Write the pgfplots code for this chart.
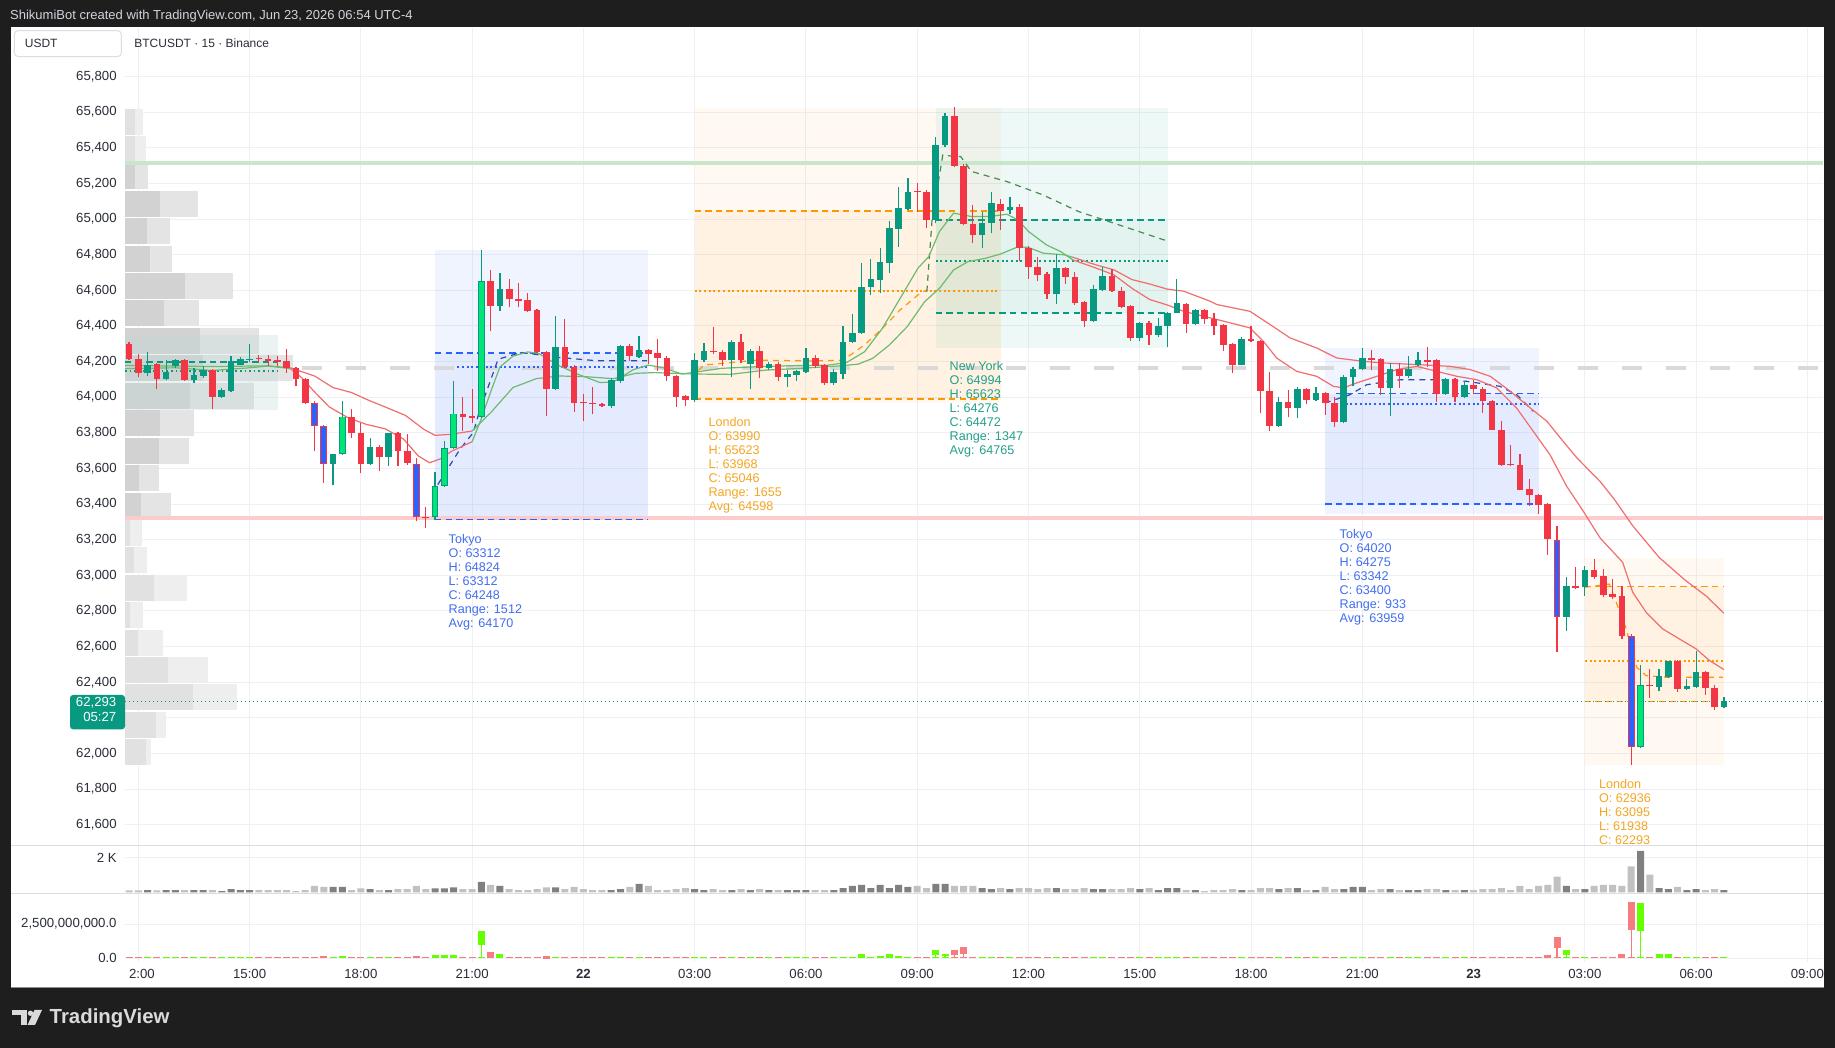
\documentclass[border=0pt]{standalone}
\usepackage{pgfplots}
\pgfplotsset{compat=1.18}
\usepackage{pgfplotstable}
\usepackage{fontspec}
\setmainfont{Liberation Sans}

\definecolor{bgdark}{HTML}{1E1E1E}
\definecolor{gridc}{HTML}{EEF0F4}
\definecolor{labc}{HTML}{2A2E39}
\definecolor{cred}{HTML}{F23645}
\definecolor{cteal}{HTML}{089981}
\definecolor{cblue}{HTML}{2962FF}
\definecolor{cbright}{HTML}{00E676}
\definecolor{volD}{HTML}{808080}
\definecolor{volL}{HTML}{C1C1C1}
\definecolor{dred}{HTML}{F77C80}
\definecolor{dgreen}{HTML}{66FF00}
\definecolor{tokyoc}{HTML}{2962FF}
\definecolor{tokyot}{HTML}{426EF0}
\definecolor{londc}{HTML}{FF9800}
\definecolor{londt}{HTML}{F5A623}
\definecolor{nyc}{HTML}{089981}
\definecolor{nyt}{HTML}{22A08A}
\definecolor{mag}{HTML}{6DBB6F}
\definecolor{mar}{HTML}{F26D6D}
\definecolor{bandg}{HTML}{C8E6C9}
\definecolor{bandr}{HTML}{FCCBCD}
\definecolor{grayd}{HTML}{D9D9D9}
\definecolor{navy}{HTML}{2C4AA8}
\definecolor{nyd}{HTML}{468C50}
\definecolor{profDa}{HTML}{D2D2D2}
\definecolor{profDb}{HTML}{E4E4E4}
\definecolor{profLa}{HTML}{E1E1E1}
\definecolor{profLb}{HTML}{EEEEEE}
\definecolor{topc}{HTML}{D1D4DC}
\definecolor{sepc}{HTML}{DADDE3}
\definecolor{logoc}{HTML}{DADADA}
\definecolor{sessov}{HTML}{BFDAD6}

% t o h l c cat v   (cat: 0 up, 1 down, 2 blue, 3 bright green)
\pgfplotstableread{
t o h l c cat v
-12.25 64297 64312 64210 64217 1 120
-12.00 64217 64243 64116 64138 1 120
-11.75 64138 64251 64119 64183 0 140
-11.50 64187 64194 64044 64104 1 120
-11.25 64101 64206 64095 64140 0 140
-11.00 64176 64217 64166 64206 0 140
-10.75 64206 64213 64093 64097 1 140
-10.50 64095 64166 64082 64125 0 140
-10.25 64119 64176 64110 64153 0 140
-10.00 64153 64160 63936 64001 1 140
-9.75 64001 64054 63995 64039 0 80
-9.50 64035 64232 64030 64204 0 200
-9.25 64183 64225 64178 64213 0 140
-9.00 64209 64297 64195 64217 0 140
-8.75 64219 64235 64198 64213 1 140
-8.50 64217 64236 64176 64202 1 140
-8.25 64206 64230 64176 64198 1 140
-8.00 64202 64269 64138 64161 1 140
-7.75 64161 64170 64063 64104 1 80
-7.50 64104 64110 63960 63966 1 140
-7.25 63969 63979 63697 63838 2 380
-7.00 63838 63845 63519 63626 2 320
-6.75 63626 63640 63506 63683 0 320
-6.50 63683 63979 63675 63891 3 320
-6.25 63891 63932 63771 63801 1 140
-6.00 63801 63857 63572 63626 1 240
-5.75 63626 63773 63620 63722 0 200
-5.50 63722 63730 63585 63664 1 140
-5.25 63664 63800 63613 63797 0 140
-5.00 63797 63805 63613 63697 1 200
-4.75 63699 63791 63620 63630 1 200
-4.50 63626 63656 63304 63326 2 380
-4.25 63330 63382 63266 63320 1 200
-4.00 63326 63581 63312 63501 3 240
-3.75 63501 63754 63495 63716 3 240
-3.50 63716 64089 63710 63908 3 300
-3.25 63908 64001 63810 63891 1 200
-3.00 63893 64048 63857 63885 1 200
-2.75 63891 64824 63885 64650 3 620
-2.50 64650 64714 64372 64513 1 440
-2.25 64513 64697 64485 64607 0 380
-2.00 64607 64663 64504 64549 1 200
-1.75 64551 64641 64504 64541 1 140
-1.50 64545 64584 64480 64485 1 140
-1.25 64489 64495 64250 64254 1 200
-1.00 64254 64260 63894 64048 1 300
-0.75 64048 64457 64040 64281 0 300
-0.50 64281 64438 64165 64170 1 200
-0.25 64170 64178 63917 63969 1 320
0.00 63971 64016 63866 63966 1 200
0.25 63966 64057 63904 63961 1 140
0.50 63961 63970 63945 63951 1 140
0.75 63951 64110 63940 64095 0 140
1.00 64091 64292 64080 64288 0 200
1.25 64288 64297 64204 64232 1 320
1.50 64228 64344 64220 64264 0 500
1.75 64264 64270 64187 64245 1 380
2.00 64247 64326 64148 64221 1 140
2.25 64221 64230 64091 64119 1 140
2.50 64121 64126 63947 64001 1 200
2.75 64007 64012 63950 63984 1 260
3.00 63984 64247 63975 64207 0 200
3.25 64208 64302 64200 64261 0 140
3.50 64261 64396 64240 64252 1 200
3.75 64255 64262 64175 64208 1 140
4.00 64208 64320 64113 64312 0 140
4.25 64312 64353 64190 64208 1 200
4.50 64184 64270 64046 64261 0 140
4.75 64261 64285 64106 64162 1 200
5.00 64162 64200 64155 64184 0 140
5.25 64184 64200 64093 64113 1 140
5.50 64113 64150 64059 64130 0 140
5.75 64124 64155 64093 64147 0 140
6.00 64143 64274 64135 64218 0 140
6.25 64218 64237 64165 64175 1 140
6.50 64179 64185 64068 64077 1 140
6.75 64077 64156 64070 64139 0 140
7.00 64130 64401 64100 64312 0 260
7.25 64312 64465 64305 64362 0 380
7.50 64360 64752 64355 64621 0 440
7.75 64621 64774 64572 64662 0 260
8.00 64658 64836 64585 64757 0 440
8.25 64752 64991 64698 64948 0 260
8.50 64944 65179 64843 65061 0 440
8.75 65057 65229 65050 65154 0 320
9.00 65154 65201 65042 65149 1 380
9.25 65149 65164 64948 64995 1 260
9.50 64995 65458 64976 65413 0 500
9.75 65413 65594 65405 65581 0 500
10.00 65581 65626 65290 65300 1 380
10.25 65300 65310 64965 64973 1 380
10.50 64973 65076 64864 64911 1 380
10.75 64911 65042 64840 64980 0 260
11.00 64980 65149 64920 65089 0 200
11.25 65085 65111 64939 65046 1 260
11.50 65048 65126 65028 65066 0 200
11.75 65066 65085 64765 64840 1 260
12.00 64840 64848 64664 64729 1 260
12.25 64733 64789 64650 64686 1 200
12.50 64692 64700 64551 64579 1 260
12.75 64579 64804 64523 64724 0 260
13.00 64724 64730 64635 64673 1 200
13.25 64677 64700 64520 64527 1 200
13.50 64533 64540 64392 64428 1 260
13.75 64428 64630 64420 64606 0 200
14.00 64604 64733 64595 64681 0 200
14.25 64681 64720 64590 64598 1 200
14.50 64598 64620 64498 64508 1 200
14.75 64514 64520 64315 64334 1 260
15.00 64334 64420 64315 64418 0 200
15.25 64418 64425 64293 64349 1 260
15.50 64349 64442 64340 64401 0 140
15.75 64401 64480 64283 64475 0 260
16.00 64475 64664 64470 64527 0 260
16.25 64523 64530 64361 64411 1 140
16.50 64411 64495 64405 64490 0 140
16.75 64490 64495 64410 64436 1 80
17.00 64440 64475 64351 64402 1 140
17.25 64404 64410 64258 64295 1 140
17.50 64299 64305 64136 64183 1 200
17.75 64183 64335 64178 64329 0 140
18.00 64329 64398 64308 64314 1 140
18.25 64314 64320 63911 64033 1 260
18.50 64033 64142 63812 63840 1 260
18.75 63840 64001 63835 63973 0 200
19.00 63973 64039 63887 63939 1 260
19.25 63939 64057 63883 64046 0 260
19.50 64046 64052 63963 63986 1 140
19.75 63986 64057 63980 64024 0 140
20.00 64024 64030 63902 63967 1 320
20.25 63967 64001 63833 63859 1 200
20.50 63859 64123 63853 64113 0 200
20.75 64111 64168 64061 64158 0 320
21.00 64160 64276 64150 64220 0 320
21.25 64220 64267 64155 64207 1 140
21.50 64213 64220 64014 64052 1 200
21.75 64052 64192 63896 64158 0 200
22.00 64158 64192 64052 64117 1 140
22.25 64117 64230 64110 64158 0 140
22.50 64183 64252 64175 64207 0 140
22.75 64207 64282 64170 64198 1 200
23.00 64207 64215 63973 64020 1 200
23.25 64020 64108 64015 64102 0 140
23.50 64102 64108 63973 64001 1 140
23.75 64001 64089 63995 64070 0 140
24.00 64070 64098 64020 64048 1 140
24.25 64048 64055 63911 63977 1 200
24.50 63977 63985 63815 63818 1 200
24.75 63818 63865 63615 63621 1 260
25.00 63625 63733 63615 63617 1 140
25.25 63617 63681 63478 63481 1 380
25.50 63486 63542 63392 63449 1 200
25.75 63449 63455 63346 63396 1 380
26.00 63400 63405 63115 63205 1 440
26.25 63200 63279 62570 62764 2 920
26.50 62764 62989 62690 62938 0 380
26.75 62938 63045 62925 62931 1 200
27.00 62933 63050 62886 63030 0 200
27.25 63030 63091 62980 62992 1 380
27.50 62994 63036 62880 62891 1 440
27.75 62895 62982 62867 62880 1 440
28.00 62882 62938 62640 62658 1 380
28.25 62658 62671 61938 62035 2 1510
28.50 62035 62497 62030 62385 3 2410
28.75 62385 62475 62312 62378 1 1030
29.00 62372 62475 62350 62437 0 260
29.25 62431 62522 62425 62518 0 200
29.50 62518 62525 62348 62363 1 320
29.75 62363 62418 62355 62378 0 140
30.00 62376 62577 62370 62460 0 200
30.25 62460 62465 62331 62366 1 140
30.50 62366 62385 62245 62263 1 200
30.75 62263 62318 62255 62293 0 140
}\candles

% volume profile rows: price centre, inner width, outer width (px), shade
\pgfplotstableread{
p a b s
65547 10 18 1
65393 10 20.7 1
65239 10 23 0
65085 35 73 0
64931 21.7 45 0
64778 25 47 0
64624 60 108 0
64470 39 74 0
64316 75 134 0
64162 78 168 0
64008 65 129 0
63854 35 69 0
63700 34 64 0
63546 14 34 0
63392 16 46 0
63239 5 17 1
63085 9 21.7 1
62931 29 62 1
62777 5 18 1
62623 13 38 1
62469 43 83 1
62315 68 112 1
62161 31 41 1
62007 21 26 1
}\profile

% delta candles (units of 1e9)
\pgfplotstableread{
t o h l c
-7.00 0.18 0.18 0 0.00
-6.50 0.00 0.18 0 0.18
-4.50 0.18 0.18 0 0.00
-4.00 0.00 0.20 0 0.20
-3.75 0.00 0.20 0 0.20
-3.50 0.00 0.25 0 0.25
-2.75 0.94 2.02 0 2.02
-2.50 0.41 0.41 0 0.10
-2.25 0.05 0.26 0 0.26
-1.00 0.18 0.18 -0.05 -0.05
7.50 0.08 0.33 0 0.33
8.00 0.00 0.15 0 0.15
8.25 0.05 0.26 0 0.26
8.50 0.05 0.18 0 0.18
9.50 0.20 0.56 0 0.56
9.75 0.13 0.33 0 0.33
10.00 0.56 0.56 0 0.20
10.25 0.79 0.79 0 0.33
26.00 0.20 0.20 0 0.00
26.25 1.58 1.58 0 0.75
26.50 0.25 0.60 0 0.60
28.00 0.30 0.30 0 0.08
28.25 4.13 4.13 0 2.05
28.50 1.95 4.05 0 4.05
29.00 0.10 0.30 0 0.30
29.25 0.10 0.30 0 0.30
}\delta

\pgfplotsset{tvaxis/.style={scale only axis, width=849pt, xmin=-12.359, xmax=33.421,
  axis x line*=bottom, axis y line*=left, axis line style={draw=none},
  major tick length=0pt, xtick={-12,-9,...,33}, grid=major,
  major grid style={draw=gridc, line width=0.5pt},
  tick label style={font=\fontsize{6.6}{7}\selectfont, text=labc},
  yticklabel style={anchor=east, inner sep=0pt, xshift=-4pt},
  scaled y ticks=false, clip=true},
  nomark/.style={only marks, mark=*, mark size=0pt, mark options={draw=none, fill=none}}}

\newcommand{\cwick}[3]{% table, condition, colour
  \addplot[nomark, error bars/.cd, y dir=plus, y explicit, error mark=none,
    error bar style={line width=0.55pt, draw=#3}]
    table[x=t, y expr={#2 ? \thisrow{l} : nan}, y error expr={\thisrow{h}-\thisrow{l}}] {#1};}
\newcommand{\cbody}[6]{% table, condition, colour, width, inset, min
  \addplot[nomark, error bars/.cd, y dir=plus, y explicit, error mark=none,
    error bar style={line width=#4, draw=#3}]
    table[x=t, y expr={#2 ? min(\thisrow{o},\thisrow{c})+#5 : nan},
      y error expr={max(abs(\thisrow{c}-\thisrow{o})-2*#5,#6)}] {#1};}
\newcommand{\sesslabel}[4]{%
  \foreach \s [count=\i from 0] in {#4}{%
    \node[anchor=base west, inner sep=0pt, text=#3, font=\fontsize{6.3}{7}\selectfont] at (#1,{#2+4.5+14*\i}) {\s};}}

\begin{document}
\begin{tikzpicture}
\useasboundingbox (0,0) rectangle (917.5pt,524pt);
\fill[bgdark] (0,0) rectangle (917.5pt,524pt);
\begin{scope}[x=0.5pt,y=-0.5pt,shift={(0pt,524pt)}]
\fill[white] (10.5,27) rectangle (1823.5,987.5);
\end{scope}

%================ MAIN PRICE PANE =================
\begin{axis}[tvaxis, at={(62.5pt,101.5pt)}, anchor=south west, height=408.5pt,
  ymin=61486.5, ymax=66072.2, xticklabels={},
  ytick={61600,61800,62000,62200,62400,62600,62800,63000,63200,63400,63600,63800,64000,64200,64400,64600,64800,65000,65200,65400,65600,65800},
  yticklabels={{61,600},{61,800},{62,000},{},{62,400},{62,600},{62,800},{63,000},{63,200},{63,400},{63,600},{63,800},{64,000},{64,200},{64,400},{64,600},{64,800},{65,000},{65,200},{65,400},{65,600},{65,800}}]

% session boxes
\addplot[draw=none, fill=tokyoc, fill opacity=0.065] coordinates {(-4,63312) (1.75,63312) (1.75,64824) (-4,64824)} -- cycle;
\addplot[draw=none, fill=tokyoc, fill opacity=0.055] coordinates {(-4,63312) (1.75,63312) (1.75,64248) (-4,64248)} -- cycle;
\addplot[draw=none, fill=tokyoc, fill opacity=0.065] coordinates {(20,63342) (25.75,63342) (25.75,64275) (20,64275)} -- cycle;
\addplot[draw=none, fill=tokyoc, fill opacity=0.055] coordinates {(20,63400) (25.75,63400) (25.75,64020) (20,64020)} -- cycle;
\addplot[draw=none, fill=londc, fill opacity=0.05] coordinates {(3,63968) (11.25,63968) (11.25,65623) (3,65623)} -- cycle;
\addplot[draw=none, fill=londc, fill opacity=0.063] coordinates {(3,63990) (11.25,63990) (11.25,65046) (3,65046)} -- cycle;
\addplot[draw=none, fill=nyc, fill opacity=0.065] coordinates {(9.5,64276) (15.75,64276) (15.75,65623) (9.5,65623)} -- cycle;
\addplot[draw=none, fill=nyc, fill opacity=0.05] coordinates {(9.5,64472) (15.75,64472) (15.75,64994) (9.5,64994)} -- cycle;
\addplot[draw=none, fill=londc, fill opacity=0.05] coordinates {(27,61938) (30.75,61938) (30.75,63095) (27,63095)} -- cycle;
\addplot[draw=none, fill=londc, fill opacity=0.063] coordinates {(27,62293) (30.75,62293) (30.75,62936) (27,62936)} -- cycle;

% volume profile
\addplot[nomark, error bars/.cd, x dir=plus, x explicit, error mark=none, error bar style={line width=13pt, draw=profDb}]
  table[x expr=-12.359, y expr={\thisrow{s}==0 ? \thisrow{p} : nan}, x error expr={\thisrow{b}/37.09}] {\profile};
\addplot[nomark, error bars/.cd, x dir=plus, x explicit, error mark=none, error bar style={line width=13pt, draw=profDa}]
  table[x expr=-12.359, y expr={\thisrow{s}==0 ? \thisrow{p} : nan}, x error expr={\thisrow{a}/37.09}] {\profile};
\addplot[nomark, error bars/.cd, x dir=plus, x explicit, error mark=none, error bar style={line width=13pt, draw=profLb}]
  table[x expr=-12.359, y expr={\thisrow{s}==1 ? \thisrow{p} : nan}, x error expr={\thisrow{b}/37.09}] {\profile};
\addplot[nomark, error bars/.cd, x dir=plus, x explicit, error mark=none, error bar style={line width=13pt, draw=profLa}]
  table[x expr=-12.359, y expr={\thisrow{s}==1 ? \thisrow{p} : nan}, x error expr={\thisrow{a}/37.09}] {\profile};
\addplot[draw=none, fill=sessov, fill opacity=0.3] coordinates {(-12.359,63930) (-8.242,63930) (-8.242,64348) (-12.359,64348)} -- cycle;

% horizontal levels
\addplot[draw=bandg, line width=1.9pt] coordinates {(-12.359,65315) (33.421,65315)};
\addplot[draw=bandr, line width=2pt] coordinates {(-12.359,63320) (33.421,63320)};
\addplot[draw=grayd, line width=2pt, dash pattern=on 10pt off 12pt] coordinates {(-7.587,64166) (33.421,64166)};
\addplot[draw=cteal, line width=0.6pt, dash pattern=on 3.2pt off 2.1pt] coordinates {(-12.359,64198) (-8.242,64198)};
\addplot[draw=cteal, line width=0.8pt, dash pattern=on 0.8pt off 1.5pt] coordinates {(-12.359,64148) (-8.242,64148)};

% session open / close / average lines
\addplot[draw=tokyoc, line width=0.7pt, dash pattern=on 3.2pt off 2.1pt] coordinates {(-4,64248) (1.75,64248)};
\addplot[draw=tokyoc, line width=0.7pt, dash pattern=on 3.2pt off 2.1pt] coordinates {(-4,63312) (1.75,63312)};
\addplot[draw=tokyoc, line width=1pt, dash pattern=on 1pt off 1.35pt] coordinates {(-3.4,64170) (1.75,64170)};
\addplot[draw=tokyoc, line width=0.7pt, dash pattern=on 3.2pt off 2.1pt] coordinates {(20.3,64020) (25.75,64020)};
\addplot[draw=tokyoc, line width=0.7pt, dash pattern=on 3.2pt off 2.1pt] coordinates {(20,63400) (25.75,63400)};
\addplot[draw=tokyoc, line width=1pt, dash pattern=on 1pt off 1.35pt] coordinates {(20.3,63959) (25.75,63959)};
\addplot[draw=londc, line width=0.7pt, dash pattern=on 3.2pt off 2.1pt] coordinates {(3,65046) (11.25,65046)};
\addplot[draw=londc, line width=0.7pt, dash pattern=on 3.2pt off 2.1pt] coordinates {(3,63990) (11.25,63990)};
\addplot[draw=londc, line width=1pt, dash pattern=on 1pt off 1.35pt] coordinates {(3,64598) (11.2,64598)};
\addplot[draw=nyc, line width=0.7pt, dash pattern=on 3.2pt off 2.1pt] coordinates {(9.5,64994) (15.75,64994)};
\addplot[draw=nyc, line width=0.7pt, dash pattern=on 3.2pt off 2.1pt] coordinates {(9.5,64472) (15.75,64472)};
\addplot[draw=nyc, line width=1pt, dash pattern=on 1pt off 1.35pt] coordinates {(9.5,64765) (15.75,64765)};
\addplot[draw=londc, line width=0.7pt, dash pattern=on 3.2pt off 2.1pt] coordinates {(27,62936) (30.75,62936)};
\addplot[draw=londc, line width=0.7pt, dash pattern=on 3.2pt off 2.1pt] coordinates {(27,62293) (30.75,62293)};
\addplot[draw=londc, line width=1pt, dash pattern=on 1pt off 1.35pt] coordinates {(27,62522) (30.75,62522)};

% session running averages
\addplot[draw=navy, line width=0.6pt, dash pattern=on 3pt off 2.5pt] coordinates {(-4,63326) (-3.95,63501) (-3.33,63707) (-2.97,63801) (-2.8,63923) (-2.3,64213) (-1.68,64251) (-0.65,64223) (0.38,64204) (1.72,64204)};
\addplot[draw=navy, line width=0.6pt, dash pattern=on 3pt off 2.5pt] coordinates {(19.99,63967) (20.67,64014) (21.12,64070) (22.02,64098) (22.91,64098) (23.81,64089) (24.71,64061) (25.16,64014) (25.61,63921)};
\addplot[draw=londc, line width=0.6pt, dash pattern=on 3pt off 2.5pt] coordinates {(3.1,64150) (3.25,64180) (4.69,64208) (6.13,64203) (7.0,64208) (7.58,64293) (8.06,64386) (8.54,64490) (9.02,64574) (9.26,64602)};
\addplot[draw=nyd, line width=0.6pt, dash pattern=on 3pt off 2.5pt] coordinates {(9.26,64592) (9.4,64995) (9.69,65360) (9.98,65351) (10.17,65351) (10.46,65267) (11.42,65210) (12.38,65136) (13.35,65042) (14.31,64976) (15.65,64883) (15.75,64880)};
\addplot[draw=londc, line width=0.6pt, dash pattern=on 3pt off 2.5pt] coordinates {(27.0,62933) (27.66,62951) (28.1,62708) (28.4,62484) (28.65,62437) (29.2,62428) (30.72,62428)};

% moving averages (fast)
\addplot[draw=mag, line width=0.6pt] coordinates {(-12.359,64160) (-11,64165) (-10,64150) (-9,64165) (-8.5,64175) (-7.9,64160)};
\addplot[draw=mar, line width=0.6pt] coordinates {(-7.9,64160) (-7.6,64110) (-7.25,64030) (-6.85,63945) (-6.35,63885) (-5.85,63847) (-5.35,63823) (-4.85,63765) (-4.45,63670) (-4.15,63632) (-3.85,63654) (-3.55,63697) (-3.0,63750)};
\addplot[draw=mag, line width=0.6pt] coordinates {(-3.0,63750) (-2.75,63880) (-2.5,64030) (-2.25,64170) (-1.9,64230) (-1.5,64254) (-1.2,64245) (-0.65,64176) (-0.15,64129) (0.45,64082) (0.8,64085) (1.35,64155) (1.75,64180) (2.15,64165) (2.65,64130) (3.0,64140) (3.73,64162) (4.69,64171) (5.65,64177) (6.6,64180) (7.1,64195) (7.58,64255) (8.06,64386) (8.54,64555) (9.02,64724) (9.31,64789) (9.6,64930) (9.98,65033) (10.46,65014) (10.94,65014) (11.42,65027) (11.71,64995) (12.0,64930) (12.48,64855) (12.87,64817) (13.2,64770)};
\addplot[draw=mar, line width=0.6pt] coordinates {(13.2,64770) (13.83,64724) (14.31,64686) (14.79,64611) (15.27,64548) (15.75,64517) (16.18,64482) (17.08,64436) (17.97,64389) (18.33,64314) (18.69,64220) (19.23,64145) (19.77,64117) (20.22,64061) (20.49,64052) (20.85,64080) (21.39,64117) (21.93,64155) (22.47,64173) (23.01,64145) (23.55,64117) (24.09,64098) (24.62,64052) (25.16,63939) (25.61,63808) (26.06,63677) (26.51,63500) (26.96,63359) (27.41,63210) (28.02,63073) (28.29,62905) (28.65,62793) (29.1,62699) (29.55,62643) (30.0,62587) (30.36,62522) (30.75,62471)};
% moving averages (slow)
\addplot[draw=mag, line width=0.6pt] coordinates {(-12.359,64178) (-10,64172) (-8.5,64176) (-7.9,64165)};
\addplot[draw=mar, line width=0.6pt] coordinates {(-7.9,64165) (-7.25,64119) (-6.75,64054) (-6.25,64026) (-5.85,63988) (-5.3,63941) (-4.8,63898) (-4.3,63819) (-4.0,63786) (-3.6,63791) (-3.0,63810)};
\addplot[draw=mag, line width=0.6pt] coordinates {(-3.0,63810) (-2.5,63913) (-1.9,64054) (-1.27,64104) (-0.65,64119) (0.07,64115) (0.8,64104) (1.41,64134) (1.93,64138) (2.96,64130) (3.96,64128) (4.92,64152) (5.88,64162) (6.85,64175) (7.4,64185) (7.8,64218) (8.25,64293) (8.73,64396) (9.2,64536) (9.6,64611) (9.98,64714) (10.37,64761) (10.85,64780) (11.25,64804) (11.73,64845) (12.0,64840) (12.4,64808) (12.96,64799) (13.2,64785)};
\addplot[draw=mar, line width=0.6pt] coordinates {(13.2,64785) (13.83,64742) (14.31,64714) (14.79,64660) (15.27,64635) (15.75,64606) (16.18,64595) (16.88,64540) (17.08,64520) (17.97,64482) (18.51,64408) (19.05,64333) (19.77,64276) (20.31,64220) (21.03,64201) (21.57,64192) (22.47,64183) (23.37,64173) (23.91,64155) (24.45,64117) (24.99,64033) (25.53,63939) (25.98,63864) (26.34,63771) (26.79,63658) (27.41,63527) (27.79,63428) (28.29,63278) (29.0,63101) (29.72,62970) (30.26,62886) (30.75,62787)};

% candles
\cwick{\candles}{abs(\thisrow{cat}-1.5)>1}{cteal}
\cwick{\candles}{abs(\thisrow{cat}-1.5)<1}{cred}
\cbody{\candles}{\thisrow{cat}==0}{cteal}{3.35pt}{0}{6}
\cbody{\candles}{\thisrow{cat}==1}{cred}{3.35pt}{0}{6}
\cbody{\candles}{\thisrow{cat}==2}{cred}{3.35pt}{0}{6}
\cbody{\candles}{\thisrow{cat}==2}{cblue}{2.3pt}{5}{4}
\cbody{\candles}{\thisrow{cat}==3}{cteal}{3.35pt}{0}{6}
\cbody{\candles}{\thisrow{cat}==3}{cbright}{2.3pt}{5}{4}

% last price
\addplot[draw=cteal, line width=0.6pt, dash pattern=on 0.6pt off 1.4pt] coordinates {(-12.359,62290) (33.421,62290)};
\end{axis}

%================ VOLUME PANE =================
\begin{axis}[tvaxis, at={(62.5pt,77.5pt)}, anchor=south west, height=23.5pt,
  ymin=-29, ymax=2695.6, ytick={2000}, yticklabels={2 K}, xticklabels={}]
\addplot[ybar, bar width=3.5pt, bar shift=0pt, fill=volL, draw=none]
  table[x=t, y expr={abs(\thisrow{cat}-1.5)<1 ? \thisrow{v} : nan}] {\candles};
\addplot[ybar, bar width=3.5pt, bar shift=0pt, fill=volD, draw=none]
  table[x=t, y expr={abs(\thisrow{cat}-1.5)>1 ? \thisrow{v} : nan}] {\candles};
\end{axis}

%================ DELTA PANE =================
\begin{axis}[tvaxis, at={(62.5pt,43pt)}, anchor=south west, height=34pt,
  ymin=-0.294, ymax=4.706, ytick={0,2.5}, yticklabels={{0.0},{2,500,000,000.0}},
  xticklabels={\phantom{1}2:00,15:00,18:00,21:00,\textbf{22},03:00,06:00,09:00,12:00,15:00,18:00,21:00,\textbf{23},03:00,06:00,09:00},
  xticklabel style={anchor=base, inner sep=0pt, yshift=-8.35pt}]
% small dashes at zero
\addplot[nomark, error bars/.cd, y dir=plus, y explicit, error mark=none, error bar style={line width=3.5pt, draw=dgreen}]
  table[x=t, y expr={abs(\thisrow{cat}-1.5)>1 ? -0.03 : nan}, y error expr={0.08}] {\candles};
\addplot[nomark, error bars/.cd, y dir=plus, y explicit, error mark=none, error bar style={line width=3.5pt, draw=dred}]
  table[x=t, y expr={abs(\thisrow{cat}-1.5)<1 ? -0.03 : nan}, y error expr={0.08}] {\candles};
% larger delta candles
\cwick{\delta}{\thisrow{c}>=\thisrow{o}}{dgreen}
\cwick{\delta}{\thisrow{c}<\thisrow{o}}{dred}
\cbody{\delta}{\thisrow{c}>=\thisrow{o}}{dgreen}{3.5pt}{0}{0.08}
\cbody{\delta}{\thisrow{c}<\thisrow{o}}{dred}{3.5pt}{0}{0.08}
\end{axis}

%================ DECORATIONS =================
\begin{scope}[x=0.5pt,y=-0.5pt,shift={(0pt,524pt)}]
\draw[sepc, line width=0.8pt] (10.5,845.5) -- (1823.5,845.5);
\draw[sepc, line width=0.8pt] (10.5,893.5) -- (1823.5,893.5);
\draw[black!45, line width=0.9pt] (10.5,987.5) -- (1823.5,987.5);

% header
\node[anchor=west, inner sep=0pt, text=topc, font=\fontsize{6.5}{7}\selectfont] at (9.8,15.7) {ShikumiBot created with TradingView.com, Jun 23, 2026 06:54 UTC-4};
\draw[draw=sepc, fill=white, rounded corners=2pt, line width=0.5pt] (14.3,30.7) rectangle (121.4,56.7);
\node[anchor=west, inner sep=0pt, text=labc, font=\fontsize{6}{7}\selectfont] at (24.5,43.5) {USDT};
\node[anchor=west, inner sep=0pt, text=labc, font=\fontsize{6}{7}\selectfont] at (134,43) {BTCUSDT · 15 · Binance};

% session labels
\sesslabel{448.3}{538.7}{tokyot}{Tokyo,O: 63312,H: 64824,L: 63312,C: 64248,Range: 1512,Avg: 64170}
\sesslabel{708.2}{421.7}{londt}{London,O: 63990,H: 65623,L: 63968,C: 65046,Range: 1655,Avg: 64598}
\sesslabel{949.3}{366.3}{nyt}{New York,O: 64994,H: 65623,L: 64276,C: 64472,Range: 1347,Avg: 64765}
\sesslabel{1339.3}{533.7}{tokyot}{Tokyo,O: 64020,H: 64275,L: 63342,C: 63400,Range: 933,Avg: 63959}
\sesslabel{1598.7}{784.3}{londt}{London,O: 62936,H: 63095,L: 61938,C: 62293}

% last price tag
\fill[cteal, rounded corners=1.5pt] (70,695) rectangle (125,729.3);
\node[anchor=east, inner sep=0pt, text=white, font=\fontsize{6.6}{7}\selectfont] at (116.7,702.7) {62,293};
\node[anchor=east, inner sep=0pt, text=white, font=\fontsize{6.6}{7}\selectfont] at (116.7,716.7) {05:27};

% logo
\fill[logoc] (12.3,1010) rectangle (26.7,1015.3);
\fill[logoc] (20.7,1010) rectangle (26.7,1025);
\fill[logoc] (30.5,1013.3) circle (2.7);
\fill[logoc] (34.5,1010) -- (42,1010) -- (35,1025) -- (27.5,1025) -- cycle;
\node[anchor=west, inner sep=0pt, text=logoc, font=\fontsize{10.2}{12}\selectfont\bfseries] at (49.3,1018) {TradingView};
\end{scope}
\end{tikzpicture}
\end{document}
